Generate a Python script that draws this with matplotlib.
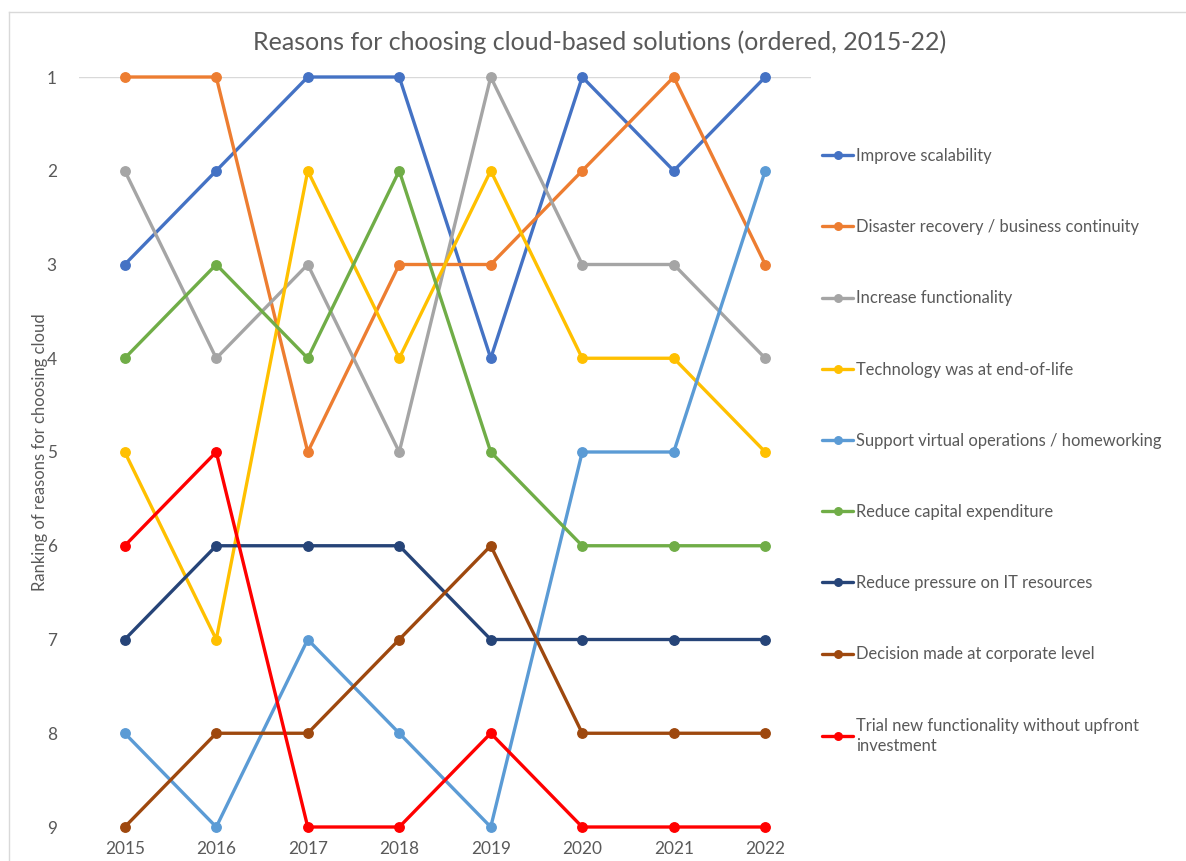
import matplotlib
matplotlib.use("Agg")
import matplotlib.pyplot as plt
from matplotlib.lines import Line2D

years = [2015, 2016, 2017, 2018, 2019, 2020, 2021, 2022]

reasons = [
    "Improve scalability",
    "Disaster recovery / business continuity",
    "Increase functionality",
    "Technology was at end-of-life",
    "Support virtual operations / homeworking",
    "Reduce capital expenditure",
    "Reduce pressure on IT resources",
    "Decision made at corporate level",
    "Trial new functionality without upfront\ninvestment",
]

scalability = [3, 2, 1, 1, 4, 1, 2, 1]
disaster = [1, 1, 5, 3, 3, 2, 1, 3]
functionality = [2, 4, 3, 5, 1, 3, 3, 4]
end_of_life = [5, 7, 2, 4, 2, 4, 4, 5]
virtual_ops = [8, 9, 7, 8, 9, 5, 5, 2]
capex = [4, 3, 4, 2, 5, 6, 6, 6]
it_pressure = [7, 6, 6, 6, 7, 7, 7, 7]
corporate = [9, 8, 8, 7, 6, 8, 8, 8]
trial = [6, 5, 9, 9, 8, 9, 9, 9]

ranks = [scalability, disaster, functionality, end_of_life, virtual_ops,
         capex, it_pressure, corporate, trial]

colors = ["#4472C4", "#ED7D31", "#A5A5A5", "#FFC000", "#5B9BD5",
          "#70AD47", "#264478", "#9E480E", "#FF0000"]

plt.rcParams["font.family"] = ["Lato", "DejaVu Sans"]
text_color = "#595959"

W, H = 1186, 861
fig = plt.figure(figsize=(W / 100, H / 100), dpi=100)
# plot area in pixels: x 79..811, y 77..827
ax = fig.add_axes([79 / W, 1 - 827 / H, (811 - 79) / W, (827 - 77) / H])

for label, r, c in zip(reasons, ranks, colors):
    ax.plot(years, r, color=c, lw=2.4, marker="o", ms=6.8,
            label=label, clip_on=False, solid_capstyle="round")

ax.set_xlim(2014.5, 2022.5)
ax.set_ylim(9, 1)
ax.set_xticks(years)
ax.set_yticks(range(1, 10))
ax.tick_params(length=0, colors=text_color, labelsize=12.4)
ax.tick_params(axis="x", pad=10)
ax.tick_params(axis="y", pad=16)
for s in ax.spines.values():
    s.set_visible(False)
ax.axhline(1, color="#D9D9D9", lw=1, zorder=0)

ax.set_ylabel("Ranking of reasons for choosing cloud", color=text_color,
              fontsize=12, labelpad=-1)
fig.text(600 / W, 1 - 42 / H,
         "Reasons for choosing cloud-based solutions (ordered, 2015-22)",
         ha="center", va="center", fontsize=18, color=text_color)

leg = ax.legend(loc="upper left", bbox_to_anchor=(822 / W, 1 - 148 / H),
                bbox_transform=fig.transFigure, frameon=False,
                borderpad=0, borderaxespad=0, handlelength=1.9,
                handletextpad=0.15, labelspacing=3.34, fontsize=11.9,
                markerscale=0.8)
for t in leg.get_texts():
    t.set_color(text_color)
    t.set_linespacing(1.3)

# chart frame (cropped at right/bottom)
fig.add_artist(Line2D([8.5 / W, 8.5 / W], [0, 1 - 12 / H],
                      transform=fig.transFigure, color="#D9D9D9", lw=1))
fig.add_artist(Line2D([8.5 / W, 1], [1 - 12 / H, 1 - 12 / H],
                      transform=fig.transFigure, color="#D9D9D9", lw=1))

fig.savefig("out.png", dpi=100)
